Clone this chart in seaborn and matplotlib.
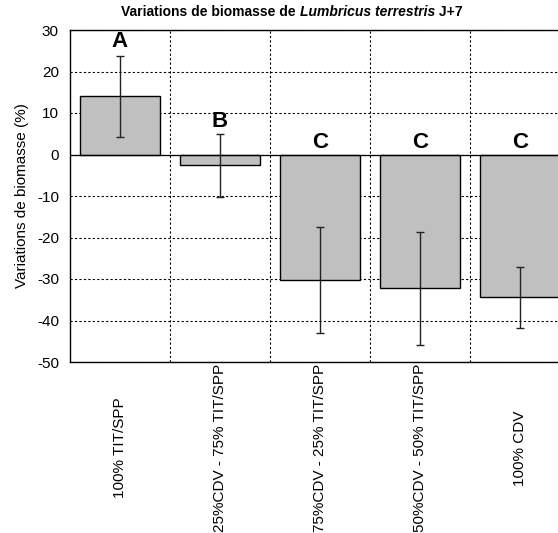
import numpy as np
import seaborn as sns
import matplotlib.pyplot as plt
from matplotlib.transforms import blended_transform_factory

# Data
treatments = ['100% TIT/SPP', '25%CDV - 75% TIT/SPP', '75%CDV - 25% TIT/SPP',
              '50%CDV - 50% TIT/SPP', '100% CDV']
variation = [14.0, -2.6, -30.2, -32.2, -34.4]
errors = [9.8, 7.6, 12.7, 13.6, 7.4]
groups = ['A', 'B', 'C', 'C', 'C']
letter_y = [27.3, 8.0, 2.8, 2.8, 2.8]

sns.set_style('white')
plt.rcParams['font.family'] = ['Liberation Sans', 'DejaVu Sans']
plt.rcParams['axes.unicode_minus'] = False
plt.rcParams['text.color'] = 'black'
plt.rcParams['axes.labelcolor'] = 'black'
plt.rcParams['xtick.color'] = 'black'
plt.rcParams['ytick.color'] = 'black'

fig = plt.figure(figsize=(5.58, 5.33), dpi=100)
# axes spans past the right edge of the picture, as in the reference
ax = fig.add_axes([70 / 558, 1 - 362 / 533, 500 / 558, 332 / 533])

sns.barplot(x=treatments, y=variation, color='#c0c0c0', edgecolor='black',
            linewidth=1.0, width=0.8, saturation=1, ax=ax, zorder=3)
ax.errorbar(np.arange(len(treatments)), variation, yerr=errors, fmt='none',
            ecolor='#222222', elinewidth=1.0, capsize=3, capthick=1.0, zorder=4)

for i, g in enumerate(groups):
    ax.text(i, letter_y[i], g, ha='center', va='center', fontsize=16,
            fontweight='bold', color='black', zorder=5)

ax.axhline(0, color='black', lw=0.9, zorder=3.5)

ax.set_ylim(-50, 30)
ax.set_xlim(-0.5, len(treatments) - 0.5)
ax.set_yticks(range(-50, 31, 10))
ax.set_xticks(np.arange(0.5, len(treatments) - 0.5, 1), minor=False)
ax.set_xticklabels([])
ax.tick_params(axis='y', labelsize=11, length=0, pad=8, labelcolor='black')
ax.tick_params(axis='x', length=0)
ax.grid(True, axis='both', linestyle=(0, (2, 2)), color='black', linewidth=0.8, zorder=0)
ax.set_axisbelow(True)
for s in ax.spines.values():
    s.set_color('black')
    s.set_linewidth(1.0)
ax.set_xlabel('')
ax.set_ylabel('Variations de biomasse (%)', fontsize=11, labelpad=6, color='black')

# category labels, rotated and centred vertically below the axes
trans = blended_transform_factory(ax.transData, fig.transFigure)
for i, t in enumerate(treatments):
    ax.text(i, 1 - 448 / 533, t, transform=trans, rotation=90, ha='center',
            va='center', fontsize=11, color='black')

# title with italic species name
fig.canvas.draw()
renderer = fig.canvas.get_renderer()
parts = [('Variations de biomasse de ', 'normal'), ('Lumbricus terrestris', 'italic'), (' J+7', 'normal')]
texts = []
total = 0
for s, st in parts:
    t = fig.text(0, 1 - 12 / 533, s, fontsize=10, fontweight='bold', style=st,
                 va='center', color='black')
    w = t.get_window_extent(renderer).width
    texts.append((t, w))
    total += w
x0 = 292 - total / 2
for t, w in texts:
    t.set_x(x0 / 558)
    x0 += w

fig.savefig('out.png', dpi=100)
